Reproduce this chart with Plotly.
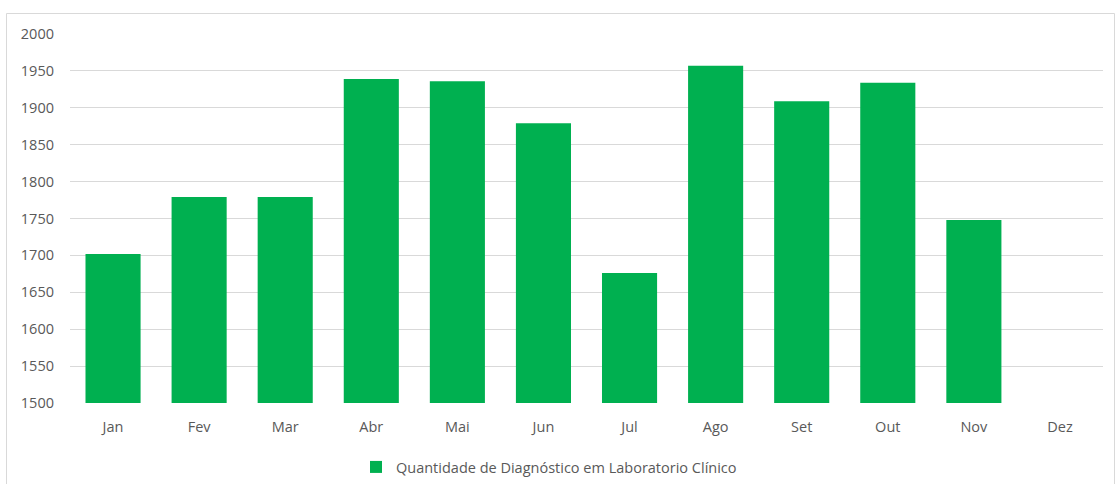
import plotly.graph_objects as go

# Monthly counts of clinical lab diagnoses
months = ["Jan", "Fev", "Mar", "Abr", "Mai", "Jun", "Jul", "Ago", "Set", "Out", "Nov", "Dez"]
quantities = [1702, 1779, 1779, 1939, 1936, 1879, 1676, 1957, 1909, 1934, 1748, None]
series_name = "Quantidade de Diagnóstico em Laboratorio Clínico"
y_ticks = list(range(1500, 2001, 50))

FONT = "'Open Sans', Lato, sans-serif"
TEXT_COLOR = "#595959"
GRID_COLOR = "#d9d9d9"
FS = 14.5

fig = go.Figure(
    go.Bar(
        x=months,
        y=quantities,
        name=series_name,
        marker=dict(color="#00B050", line=dict(width=0)),
        showlegend=True,
    )
)

# chart area frame, placed in paper space around the plot
W, H = 1115, 484
L, R, T, B = 70, 12, 34, 81
pw, ph = W - L - R, H - T - B
def px_x(x):
    return (x - L) / pw
def px_y(y):
    return (H - B - y) / ph

fig.add_shape(
    type="rect", xref="paper", yref="paper",
    x0=px_x(6.5), x1=px_x(1114.5), y0=px_y(500), y1=px_y(13.5),
    line=dict(color=GRID_COLOR, width=1), fillcolor="rgba(0,0,0,0)", layer="below",
)

fig.update_layout(
    width=W, height=H,
    margin=dict(l=L, r=R, t=T, b=B, autoexpand=False),
    paper_bgcolor="white", plot_bgcolor="white",
    bargap=0.36,
    font=dict(family=FONT, size=FS, color=TEXT_COLOR),
    xaxis=dict(
        categoryorder="array", categoryarray=months,
        showgrid=False, showline=False, zeroline=False,
        ticks="", tickfont=dict(size=FS, color=TEXT_COLOR),
        ticklabelstandoff=13,
    ),
    yaxis=dict(
        range=[1500, 2000], tickvals=y_ticks,
        showgrid=True, gridcolor=GRID_COLOR, gridwidth=1,
        showline=False, zeroline=False, ticks="",
        tickfont=dict(size=FS, color=TEXT_COLOR),
        ticklabelstandoff=15,
    ),
    legend=dict(
        orientation="h", x=px_x(549), xanchor="center", y=px_y(451), yanchor="top",
        font=dict(size=FS, color=TEXT_COLOR),
        itemwidth=30,
    ),
)

fig.write_html("out.html")
